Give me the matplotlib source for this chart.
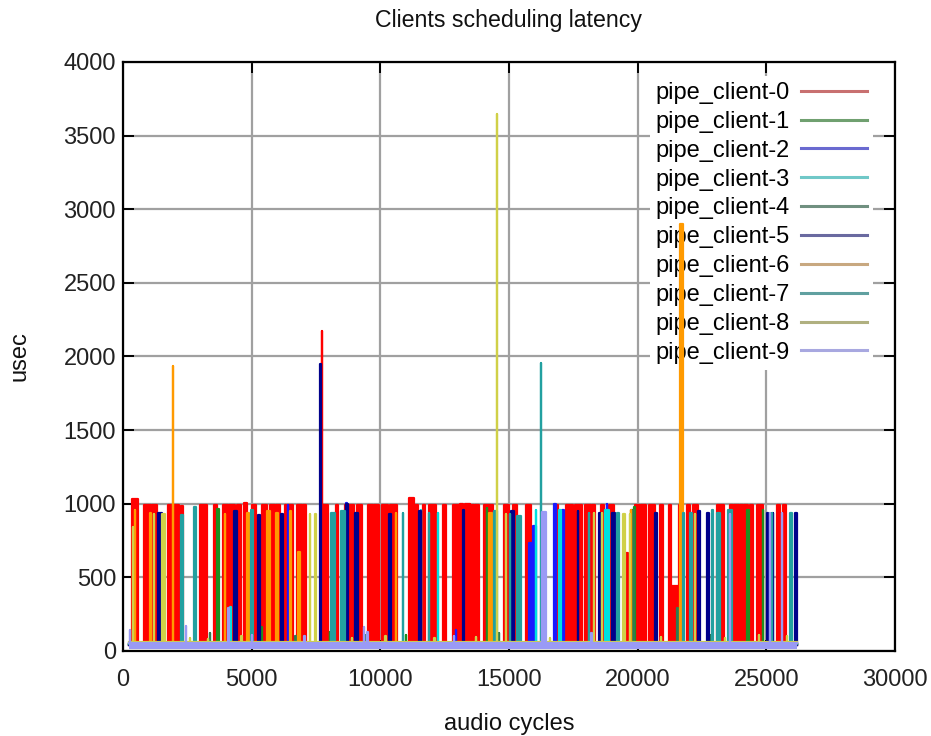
import matplotlib
matplotlib.use("Agg")
import matplotlib.pyplot as plt
from matplotlib.lines import Line2D

# Latency events per client: (first cycle, last cycle, peak usec)
client0 = [(350, 580, 1030), (835, 1070, 990), (1110, 1340, 990), (1730, 1920, 990),
           (2000, 2160, 990), (2240, 2320, 985), (3010, 3280, 990), (3520, 3670, 990),
           (3870, 4080, 990), (4130, 4370, 990), (4450, 4570, 990), (4720, 4800, 1005),
           (5030, 5150, 990), (5420, 5580, 990), (5730, 5900, 990), (5950, 6120, 990),
           (6280, 6350, 990), (6390, 6620, 990), (6780, 6950, 990), (7000, 7130, 990),
           (7680, 7730, 990), (7735, 7750, 2170), (7755, 7980, 990), (8260, 8370, 990),
           (8610, 8760, 990), (8800, 8960, 990), (9110, 9270, 990), (9540, 9700, 990),
           (9750, 9930, 990), (10050, 10280, 990), (10390, 10630, 990), (11130, 11290, 1040),
           (11330, 11480, 990), (11670, 11740, 990), (11910, 12180, 990), (12420, 12570, 990),
           (12840, 13040, 990), (13080, 13230, 1000), (13280, 13470, 1000), (13500, 13650, 990),
           (13690, 13820, 990), (14010, 14360, 990), (14790, 15020, 990), (15140, 15330, 990),
           (15680, 15870, 990), (16840, 16900, 990), (17230, 17470, 990), (17580, 17820, 990),
           (17970, 18170, 990), (18210, 18360, 990), (18590, 18710, 990), (18900, 19100, 990),
           (19490, 19610, 665), (19880, 20090, 990), (20130, 20310, 990), (20460, 20660, 990),
           (20850, 20970, 990), (21200, 21280, 990), (21330, 21570, 440), (21590, 21700, 990),
           (21900, 22050, 990), (22170, 22330, 990), (23100, 23340, 990), (23570, 23720, 990),
           (23760, 23920, 990), (23960, 24110, 990), (24150, 24270, 990), (24350, 24500, 990),
           (24620, 24890, 990), (25430, 25550, 990), (25630, 25750, 990)]
client1 = [(1400, 1410, 90), (3650, 3730, 965), (5380, 5390, 160), (8050, 8060, 130),
           (11000, 11010, 110), (14140, 14150, 970), (19860, 19900, 980), (24250, 24330, 960),
           (24870, 24880, 960)]
client2 = [(1600, 1610, 130), (6410, 6420, 990), (8660, 8700, 1005), (12930, 12940, 140),
           (15780, 15890, 733), (15930, 16050, 848), (16750, 16830, 1000), (17060, 17140, 960),
           (18800, 18810, 1000), (25140, 25150, 130)]
client3 = [(4160, 4180, 300), (11580, 11590, 960), (12240, 12250, 935), (16050, 16060, 960),
           (16940, 17020, 960), (18730, 18890, 960)]
client4 = [(3380, 3390, 120), (6700, 6710, 100), (9450, 9460, 110), (14600, 14610, 120),
           (19740, 19860, 955), (21530, 21570, 290), (22800, 22810, 110)]
client5 = [(1360, 1520, 937), (4310, 4430, 950), (5250, 5320, 923), (6140, 6220, 930),
           (7660, 7680, 1950), (8660, 8740, 1000), (9020, 9130, 935), (10340, 10410, 930),
           (11500, 11580, 950), (13210, 13250, 960), (15080, 15190, 950), (17680, 17690, 950),
           (18500, 18540, 935), (19000, 19120, 935), (20670, 20750, 935), (22350, 22420, 950),
           (22700, 22770, 935), (25030, 25070, 935), (25260, 25270, 935), (26110, 26190, 935)]
client6 = [(460, 470, 957), (1050, 1100, 937), (1940, 1950, 1935), (3960, 3970, 930),
           (4820, 4900, 937), (5600, 5710, 950), (5950, 6020, 935), (6490, 6530, 950),
           (6800, 6880, 672), (10610, 10620, 940), (14220, 14340, 935), (19740, 19750, 960),
           (21650, 21760, 2900)]
client7 = [(2250, 2330, 923), (2760, 2840, 978), (4970, 5050, 957), (8080, 8240, 935),
           (8470, 8630, 950), (10880, 10890, 935), (11890, 11900, 935), (14420, 14530, 950),
           (15040, 15050, 930), (15310, 15470, 920), (16240, 16250, 1955), (18110, 18120, 940),
           (19200, 19270, 935), (21760, 21800, 935), (22030, 22110, 935), (22890, 22930, 955),
           (23080, 23200, 940), (23510, 23670, 955), (25220, 25230, 935), (25920, 26000, 935)]
client8 = [(390, 400, 842), (1200, 1210, 930), (1520, 1630, 930), (2600, 2610, 90),
           (3300, 3310, 80), (4600, 4610, 100), (7270, 7280, 930), (7480, 7500, 930),
           (8900, 8910, 90), (10200, 10210, 100), (12100, 12110, 85), (13700, 13710, 95),
           (14530, 14540, 3650), (14880, 14890, 930), (16600, 16610, 90), (18300, 18310, 935),
           (18610, 18620, 935), (19430, 19510, 930), (19700, 19710, 930), (20900, 20910, 95),
           (22230, 22240, 930), (23400, 23410, 90), (24700, 24710, 110), (25800, 25810, 100)]
client9 = [(270, 280, 140), (2430, 2440, 170), (4100, 4120, 290), (5000, 5010, 110),
           (7050, 7060, 100), (9350, 9360, 160), (9500, 9510, 130), (12850, 12860, 100),
           (16280, 16440, 943), (18200, 18210, 120), (23590, 23600, 930), (25140, 25150, 935),
           (25610, 25620, 935)]

# Typical (idle) latency of each client, usec
baselines = [40, 45, 40, 45, 50, 40, 45, 50, 60, 52]
client9_floor = 14
cycle_first = 250
cycle_last = 26200

labels = [f"pipe_client-{i}" for i in range(10)]
events = [client0, client1, client2, client3, client4,
          client5, client6, client7, client8, client9]
colors = ["#ff0000", "#1f8f1f", "#1a1aff", "#00e0e0", "#2e7d4f",
          "#00008b", "#ff9a00", "#22a0a0", "#d0d048", "#9a9af5"]
key_colors = ["#c87070", "#70a070", "#6a6ad0", "#70c8c8", "#709080",
              "#6a6aa0", "#c8a880", "#60a0a0", "#b0b080", "#a8a8e0"]

FONT = "Liberation Sans"
plt.rcParams["font.family"] = [FONT, "DejaVu Sans"]

fig = plt.figure(figsize=(9.31, 7.36), dpi=100)
ax = fig.add_axes([0.1321, 0.1155, 0.8292, 0.8003])


def trace(evts, base):
    xs, ys = [cycle_first], [base]
    for s, e, p in sorted(evts):
        xs += [s, s, e, e]
        ys += [base, p, p, base]
    xs.append(cycle_last)
    ys.append(base)
    return xs, ys


for i, (evts, col) in enumerate(zip(events, colors)):
    base = baselines[i]
    xs, ys = trace(evts, base)
    z = 2 + i * 0.1
    if i == 9:
        ax.fill_between([cycle_first, cycle_last], client9_floor, base,
                        color=col, lw=0, zorder=z)
    ax.fill_between(xs, base, ys, color=col, lw=0, zorder=z)
    ax.plot(xs, ys, color=col, lw=1.6, zorder=z)

ax.set_xlim(0, 30000)
ax.set_ylim(0, 4000)
ax.set_xticks(range(0, 30001, 5000))
ax.set_yticks(range(0, 4001, 500))
ax.set_axisbelow(True)
ax.grid(True, color="#a0a0a0", lw=1.6)
for sp in ax.spines.values():
    sp.set_linewidth(1.6)
    sp.set_zorder(5)
ax.tick_params(direction="in", length=8, width=1.4, top=True, right=True,
               labelsize=17, colors="#000000", labelcolor="#222222")
ax.tick_params(axis="x", pad=13)
ax.tick_params(axis="y", pad=5)

ax.set_title("Clients scheduling latency", fontsize=16.7, pad=25, color="#111111")
ax.set_xlabel("audio cycles", fontsize=17, labelpad=16, color="#111111")
ax.set_ylabel("usec", fontsize=17, labelpad=24, color="#111111")

handles = [Line2D([], [], color=c, lw=2.2) for c in key_colors]
leg = ax.legend(handles, labels, loc="upper right", bbox_to_anchor=(0.971, 0.976),
                markerfirst=False, fontsize=17, handlelength=2.8, handletextpad=0.45,
                labelspacing=0.29, borderpad=0.25, borderaxespad=0,
                frameon=True, fancybox=False, framealpha=1.0)
leg.get_frame().set_edgecolor("none")
leg.get_frame().set_facecolor("white")
leg.set_zorder(1.5)

fig.savefig("out.png", dpi=100)
